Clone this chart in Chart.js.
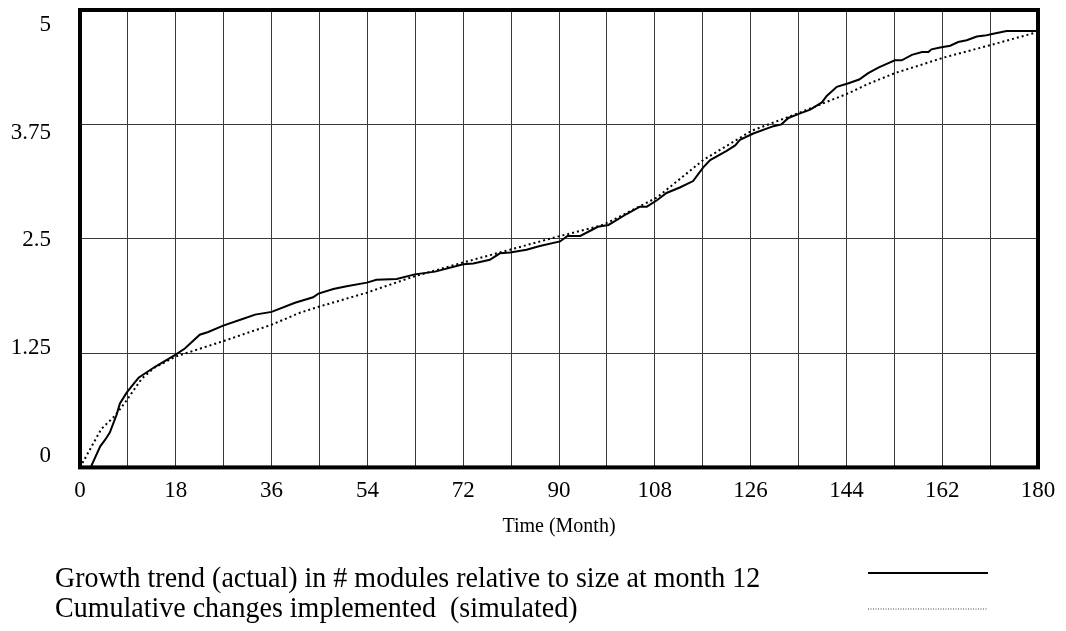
<!DOCTYPE html>
<html><head><meta charset="utf-8">
<script src="https://cdn.jsdelivr.net/npm/chart.js@4/dist/chart.umd.min.js"></script>
<style>html,body{margin:0;padding:0;background:#fff;}#wrap{width:1066px;height:631px;}</style>
</head><body><div id="wrap"><canvas id="c" width="1066" height="631"></canvas></div>
<script>
const seriesLabels = ["Growth trend (actual) in # modules relative to size at month 12", "Cumulative changes implemented  (simulated)"];
const xTitle = "Time (Month)";
const yTickValues = [0, 1.25, 2.5, 3.75, 5];
const xTickValues = [0, 9, 18, 27, 36, 45, 54, 63, 72, 81, 90, 99, 108, 117, 126, 135, 144, 153, 162, 171, 180];
const xLabelEvery = 18;

const actualMonths = [0, 2, 3.8, 4.7, 5.6, 6.9, 7.5, 8.8, 10.3, 11, 14.1, 17.9, 19.7, 22.5, 24.1, 26.9, 30.4, 32.9, 36, 40.4, 43.8, 44.8, 47.6, 50.1, 53.9, 55.7, 59.5, 62.9, 66.7, 72, 73.9, 77, 78.9, 80.8, 83.9, 86.4, 90.2, 91.6, 94, 97.3, 99.3, 102.7, 105.2, 106.5, 108.4, 110.2, 112.7, 115.2, 117.1, 118.4, 121.5, 123.1, 124, 126.5, 130.3, 131.8, 133.1, 135.3, 137.2, 139.4, 140.3, 142.2, 144.4, 146.4, 148.1, 150, 151.9, 153.1, 154.4, 156.3, 158.2, 159.4, 160, 161.6, 163.5, 165, 166.6, 168.5, 170, 171.6, 174.1, 180];
const actualValues = [0, 0, 0.23, 0.3, 0.38, 0.58, 0.7, 0.82, 0.93, 0.98, 1.1, 1.23, 1.3, 1.45, 1.48, 1.55, 1.62, 1.67, 1.7, 1.8, 1.86, 1.9, 1.95, 1.98, 2.02, 2.05, 2.06, 2.11, 2.14, 2.22, 2.23, 2.27, 2.34, 2.35, 2.38, 2.42, 2.47, 2.53, 2.53, 2.63, 2.65, 2.77, 2.85, 2.85, 2.92, 3.0, 3.06, 3.13, 3.28, 3.36, 3.46, 3.52, 3.58, 3.65, 3.73, 3.75, 3.82, 3.87, 3.91, 3.99, 4.06, 4.16, 4.2, 4.24, 4.31, 4.37, 4.42, 4.45, 4.45, 4.51, 4.54, 4.54, 4.57, 4.59, 4.61, 4.65, 4.67, 4.71, 4.72, 4.74, 4.77, 4.77];

const simMonths = [0, 4, 6.5, 8.6, 11.6, 14, 17.9, 26.9, 36, 41.3, 44.5, 53.9, 62.9, 72, 80.8, 90.2, 97.7, 99.3, 108.4, 117.1, 126.2, 135.3, 144.4, 148, 153.1, 162.3, 171.3, 180];
const simValues = [0, 0.42, 0.56, 0.72, 0.97, 1.09, 1.21, 1.38, 1.56, 1.69, 1.75, 1.91, 2.09, 2.24, 2.38, 2.53, 2.64, 2.68, 2.95, 3.36, 3.68, 3.88, 4.09, 4.19, 4.31, 4.48, 4.62, 4.76];

const FONT = '"Liberation Serif", "Times New Roman", serif';

const framePlugin = {
  id: 'frame',
  afterDraw(chart) {
    const {ctx, chartArea: a, scales: {y}} = chart;
    ctx.save();
    ctx.strokeStyle = '#000';
    ctx.lineWidth = 4;
    ctx.strokeRect(a.left, a.top, a.right - a.left, a.bottom - a.top);
    // y tick labels
    ctx.fillStyle = '#000';
    ctx.font = '23px ' + FONT;
    ctx.textAlign = 'right';
    ctx.textBaseline = 'middle';
    const span = a.bottom - a.top;
    yTickValues.forEach(v => {
      const py = y.getPixelForValue(v);
      const yy = a.top + 14.5 + (py - a.top) * (span - 25.5) / span;
      ctx.fillText(String(v), a.left - 29, yy);
    });
    // legend
    ctx.textAlign = 'left';
    ctx.font = '28px ' + FONT;
    const rows = [579, 609];
    const lineY = [573, 609];
    ctx.save();
    ctx.translate(55, 0);
    ctx.scale(1, 1.08);
    ctx.fillText(seriesLabels[0], 0, rows[0] / 1.08);
    ctx.fillText(seriesLabels[1], 0, rows[1] / 1.08);
    ctx.restore();
    ctx.beginPath();
    ctx.lineWidth = 2;
    ctx.setLineDash([]);
    ctx.moveTo(868, lineY[0]); ctx.lineTo(988, lineY[0]);
    ctx.stroke();
    ctx.beginPath();
    ctx.lineWidth = 1;
    ctx.strokeStyle = '#444';
    ctx.setLineDash([1, 1.5]);
    ctx.moveTo(868, lineY[1]); ctx.lineTo(988, lineY[1]);
    ctx.stroke();
    ctx.restore();
  }
};

new Chart(document.getElementById('c'), {
  type: 'line',
  data: {
    datasets: [
      {
        label: seriesLabels[0],
        data: actualMonths.map((m, i) => ({x: m, y: actualValues[i]})),
        borderColor: '#000', borderWidth: 2, pointRadius: 0, tension: 0, fill: false
      },
      {
        label: seriesLabels[1],
        data: simMonths.map((m, i) => ({x: m, y: simValues[i]})),
        borderColor: '#000', borderWidth: 2, borderDash: [2, 3], pointRadius: 0, tension: 0, fill: false
      }
    ]
  },
  options: {
    responsive: false,
    animation: false,
    layout: {padding: {left: 80, right: 28, top: 10, bottom: 92}},
    plugins: {legend: {display: false}, tooltip: {enabled: false}},
    scales: {
      x: {
        type: 'linear', min: 0, max: 180,
        afterBuildTicks: s => { s.ticks = xTickValues.map(v => ({value: v})); },
        ticks: {autoSkip: false, maxRotation: 0, padding: 10, color: '#000',
          font: {family: FONT, size: 23},
          callback: v => (v % xLabelEvery === 0 ? String(v) : '')},
        grid: {color: '#3a3a3a', lineWidth: 1, drawTicks: false},
        border: {display: false},
        title: {display: true, text: xTitle, color: '#000', font: {family: FONT, size: 20}, padding: {top: 0, bottom: 0}}
      },
      y: {
        min: 0, max: 5,
        afterBuildTicks: s => { s.ticks = yTickValues.map(v => ({value: v})); },
        ticks: {display: false},
        grid: {color: '#3a3a3a', lineWidth: 1, drawTicks: false},
        border: {display: false}
      }
    }
  },
  plugins: [framePlugin]
});
</script>
</body></html>
